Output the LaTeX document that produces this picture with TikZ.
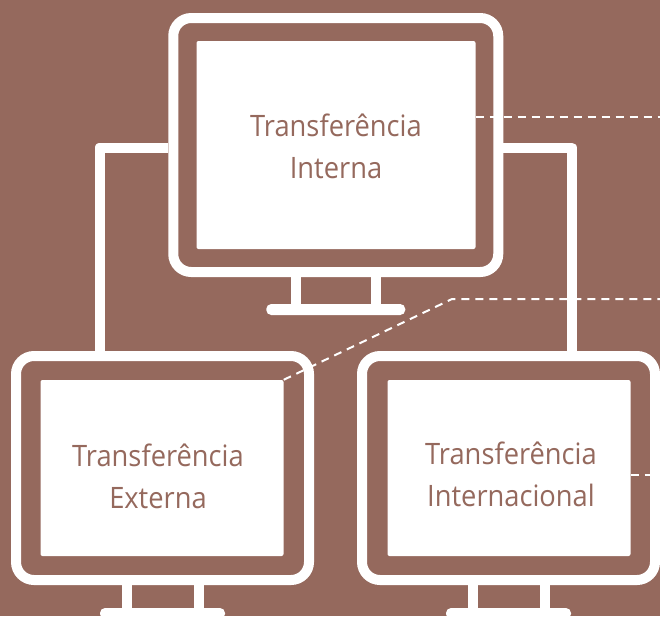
\documentclass[tikz,border=0pt]{standalone}
\usepackage{fontspec}
\setmainfont[FakeStretch=0.925]{Open Sans}
\definecolor{brownbg}{HTML}{95695D}
\tikzset{
  monitor/.style={draw=white, line width=10pt, rounded corners=18pt, inner sep=0pt},
  screen/.style={fill=white, rounded corners=2pt, inner sep=0pt},
  foot/.style={fill=white, rounded corners=5pt, inner sep=0pt, minimum height=11pt},
  stand/.style={draw=white, line width=10pt},
  wire/.style={draw=white, line width=10pt, line join=round},
  leader/.style={draw=white, line width=2pt, dash pattern=on 8pt off 6pt},
  caption/.style={text=brownbg, align=center, font=\fontsize{29.5}{42}\selectfont, inner sep=0pt}
}
\begin{document}
\begin{tikzpicture}[x=1pt,y=-1pt]
\useasboundingbox (0,0) rectangle (660,616);
\clip (0,0) rectangle (660,616);
\fill[brownbg] (0,0) rectangle (660,616);
% coordinates of the wires
\coordinate (bendL) at (99.5,147.5);
\coordinate (bendR) at (571.5,147.5);
\coordinate (elbow) at (452,299);
\coordinate (endTop) at (660,117);
\coordinate (endMid) at (660,299);
\coordinate (endBot) at (660,475);
% monitors
\node[monitor, minimum width=325pt, minimum height=254pt] (monInt) at (335.75,145) {};
\node[monitor, minimum width=293pt, minimum height=224pt] (monExt) at (162.5,468) {};
\node[monitor, minimum width=293pt, minimum height=224pt] (monIntl) at (508.5,468) {};
% screens
\node[screen, minimum width=279pt, minimum height=208pt] (scrInt) at (336,145) {};
\node[screen, minimum width=243pt, minimum height=176pt] (scrExt) at (162,468) {};
\node[screen, minimum width=243pt, minimum height=176pt] (scrIntl) at (509,468) {};
% feet
\node[foot, minimum width=139pt] (footInt) at (335.75,309.5) {};
\node[foot, minimum width=125pt] (footExt) at (162.5,613.5) {};
\node[foot, minimum width=125pt] (footIntl) at (508.5,613.5) {};
\draw[stand] ([xshift=-40pt]monInt.south) -- ([xshift=-40pt]footInt.north);
\draw[stand] ([xshift=40pt]monInt.south) -- ([xshift=40pt]footInt.north);
\draw[stand] ([xshift=-36pt]monExt.south) -- ([xshift=-36pt]footExt.north);
\draw[stand] ([xshift=36pt]monExt.south) -- ([xshift=36pt]footExt.north);
\draw[stand] ([xshift=-36pt]monIntl.south) -- ([xshift=-36pt]footIntl.north);
\draw[stand] ([xshift=36pt]monIntl.south) -- ([xshift=36pt]footIntl.north);
% wires
\draw[wire] (bendL -| monInt.west) -- (bendL) -- (bendL |- monExt.north);
\draw[wire] (bendR -| monInt.east) -- (bendR) -- (bendR |- monIntl.north);
\draw[leader] (scrInt.east |- endTop) -- (endTop);
\draw[leader] (scrExt.north east) -- (elbow) -- (endMid);
\draw[leader] (scrIntl.east |- endBot) -- (endBot);
% texts
\node[caption] (txtInt) at (336,146) {Transferência\\Interna};
\node[caption] (txtExt) at (158,476) {Transferência\\Externa};
\node[caption] (txtIntl) at (511,474) {Transferência\\Internacional};
\end{tikzpicture}
\end{document}
